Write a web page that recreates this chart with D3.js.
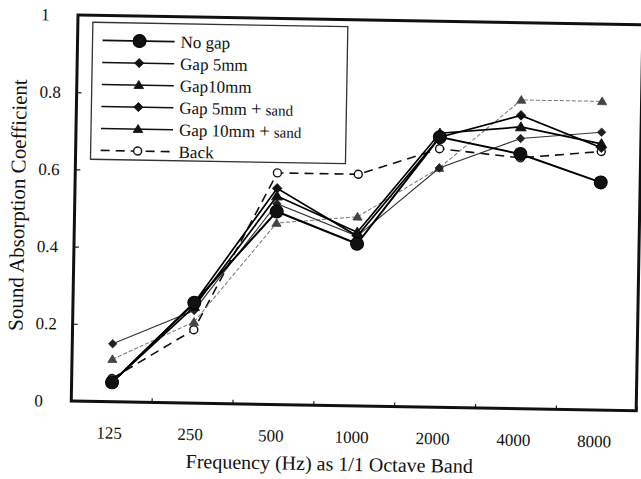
<!DOCTYPE html>
<html>
<head>
<meta charset="utf-8">
<script src="https://cdn.jsdelivr.net/npm/d3@7"></script>
<style>
  html, body { margin: 0; padding: 0; background: #fff; }
  svg { display: block; }
  text { font-family: "Liberation Serif", "Times New Roman", serif; fill: #111; }
</style>
</head>
<body>
<svg id="chart" width="641" height="479"></svg>
<script>
// Octave band centre frequencies (Hz)
const bands = ["125", "250", "500", "1000", "2000", "4000", "8000"];
const yTicks = [0, 0.2, 0.4, 0.6, 0.8, 1];
const yTickLabels = ["0", "0.2", "0.4", "0.6", "0.8", "1"];

// Sound absorption coefficient per band
const noGap        = [0.05, 0.26, 0.50, 0.42, 0.70, 0.66, 0.59];
const gap5         = [0.05, 0.26, 0.56, 0.44, 0.70, 0.76, 0.68];
const gap10        = [0.05, 0.25, 0.54, 0.45, 0.71, 0.73, 0.69];
const gap5Sand     = [0.15, 0.24, 0.52, 0.44, 0.62, 0.70, 0.72];
const gap10Sand    = [0.11, 0.21, 0.47, 0.49, 0.62, 0.80, 0.80];
const back         = [0.06, 0.19, 0.60, 0.60, 0.67, 0.65, 0.67];

const seriesNames = ["No gap", "Gap 5mm", "Gap10mm", "Gap 5mm+sand", "Gap 10mm+sand", "Back"];

const series = [
  { name: seriesNames[0], values: noGap,     marker: "circle",   size: 6.5, stroke: "#000", width: 2.0, dash: null,  fill: "#111" },
  { name: seriesNames[1], values: gap5,      marker: "diamond",  size: 4.8, stroke: "#000", width: 1.7, dash: null,  fill: "#111" },
  { name: seriesNames[2], values: gap10,     marker: "triangle", size: 5.2, stroke: "#000", width: 1.7, dash: null,  fill: "#111" },
  { name: seriesNames[3], values: gap5Sand,  marker: "diamond",  size: 4.2, stroke: "#333", width: 1.1, dash: null,  fill: "#222" },
  { name: seriesNames[4], values: gap10Sand, marker: "triangle", size: 4.4, stroke: "#777", width: 1.0, dash: "4,2", fill: "#444" },
  { name: seriesNames[5], values: back,      marker: "open",     size: 4.0, stroke: "#111", width: 1.6, dash: "9,6", fill: "#fff" }
];

const plot = { left: 78, top: 15, right: 643, bottom: 401 };

const svg = d3.select("#chart");
// the whole figure sits at a slight clockwise tilt
const g = svg.append("g").attr("transform", "rotate(1.0," + plot.left + "," + plot.top + ")");

const x = d3.scaleBand().domain(bands).range([plot.left, plot.right + 1]).paddingInner(0).paddingOuter(0);
const y = d3.scaleLinear().domain([0, 1]).range([plot.bottom, plot.top]);
const cx = d => x(d) + x.bandwidth() / 2;

// inward ticks on the y axis
const yAxis = d3.axisRight(y).tickValues(yTicks.slice(1, -1)).tickSize(5).tickFormat("");
g.append("g").attr("transform", "translate(" + plot.left + ",0)").call(yAxis)
  .call(s => s.select(".domain").remove())
  .call(s => s.selectAll("line").attr("stroke", "#222").attr("stroke-width", 1.2));

// inward ticks on the x axis at band boundaries
const xAxis = d3.axisTop(x).tickSize(4).tickFormat("");
const xa = g.append("g").attr("transform", "translate(0," + plot.bottom + ")").call(xAxis);
xa.select(".domain").remove();
xa.selectAll(".tick").attr("transform", d => "translate(" + (x(d) + x.bandwidth()) + ",0)");
xa.selectAll("line").attr("stroke", "#222").attr("stroke-width", 1.2);

// y tick labels
g.append("g").selectAll("text").data(yTicks).join("text")
  .attr("x", 41).attr("y", d => y(d) + 6)
  .attr("font-size", 17)
  .text((d, i) => yTickLabels[i]);

// x tick labels
g.append("g").selectAll("text").data(bands).join("text")
  .attr("x", d => cx(d) - 2).attr("y", 438)
  .attr("text-anchor", "middle").attr("font-size", 17)
  .text(d => d);

// axis titles
g.append("text").attr("x", 337).attr("y", 466).attr("text-anchor", "middle")
  .attr("font-size", 20).text("Frequency (Hz) as 1/1 Octave Band");
g.append("text").attr("transform", "translate(28,206) rotate(-90)").attr("text-anchor", "middle")
  .attr("font-size", 21).text("Sound Absorption Coefficient");

// marker drawing
function drawMarker(sel, s) {
  if (s.marker === "circle" || s.marker === "open") {
    sel.append("circle").attr("r", s.size)
      .attr("fill", s.fill).attr("stroke", s.stroke).attr("stroke-width", s.marker === "open" ? 1.4 : 1);
  } else if (s.marker === "diamond") {
    const a = s.size;
    sel.append("path").attr("d", "M0," + (-a) + "L" + a + ",0L0," + a + "L" + (-a) + ",0Z")
      .attr("fill", s.fill).attr("stroke", s.fill).attr("stroke-width", 0.8);
  } else if (s.marker === "triangle") {
    const a = s.size;
    sel.append("path").attr("d", "M0," + (-a) + "L" + (a * 1.05) + "," + (a * 0.75) + "L" + (-a * 1.05) + "," + (a * 0.75) + "Z")
      .attr("fill", s.fill).attr("stroke", s.fill).attr("stroke-width", 0.8);
  }
}

const line = d3.line().x((d, i) => cx(bands[i])).y(d => y(d));

// series lines and markers (drawn so the solid series sit on top)
const drawOrder = [5, 4, 3, 2, 1, 0];
drawOrder.forEach(k => {
  const s = series[k];
  const sg = g.append("g");
  sg.append("path").datum(s.values).attr("d", line)
    .attr("fill", "none").attr("stroke", s.stroke).attr("stroke-width", s.width)
    .attr("stroke-dasharray", s.dash);
  s.values.forEach((v, i) => {
    const m = sg.append("g").attr("transform", "translate(" + cx(bands[i]) + "," + y(v) + ")");
    drawMarker(m, s);
  });
});

// legend
const lg = g.append("g");
lg.append("rect").attr("x", 93).attr("y", 22).attr("width", 255).attr("height", 137)
  .attr("fill", "#fff").attr("stroke", "#333").attr("stroke-width", 1.3);
series.forEach((s, i) => {
  const ly = 40 + i * 22;
  lg.append("line").attr("x1", 103).attr("x2", 175).attr("y1", ly).attr("y2", ly)
    .attr("stroke", "#111")
    .attr("stroke-width", s.marker === "open" ? 1.6 : (i === 0 ? 1.8 : 1.5))
    .attr("stroke-dasharray", s.marker === "open" ? "9,6" : null);
  const m = lg.append("g").attr("transform", "translate(140," + ly + ")");
  drawMarker(m, Object.assign({}, s, { fill: s.marker === "open" ? "#fff" : "#111", size: s.marker === "circle" ? 6.5 : (s.marker === "open" ? 4 : 4.6) }));
  const t = lg.append("text").attr("x", 181).attr("y", ly + 6).attr("font-size", 17);
  const parts = s.name.split("+");
  if (parts.length === 2) {
    t.append("tspan").text(parts[0] + " ");
    t.append("tspan").attr("font-size", 19).text("+");
    t.append("tspan").attr("font-size", 15).text(" " + parts[1]);
  } else {
    t.text(s.name);
  }
});

// plot frame
g.append("rect").attr("x", plot.left).attr("y", plot.top)
  .attr("width", plot.right - plot.left).attr("height", plot.bottom - plot.top)
  .attr("fill", "none").attr("stroke", "#111").attr("stroke-width", 3);
</script>
</body>
</html>
